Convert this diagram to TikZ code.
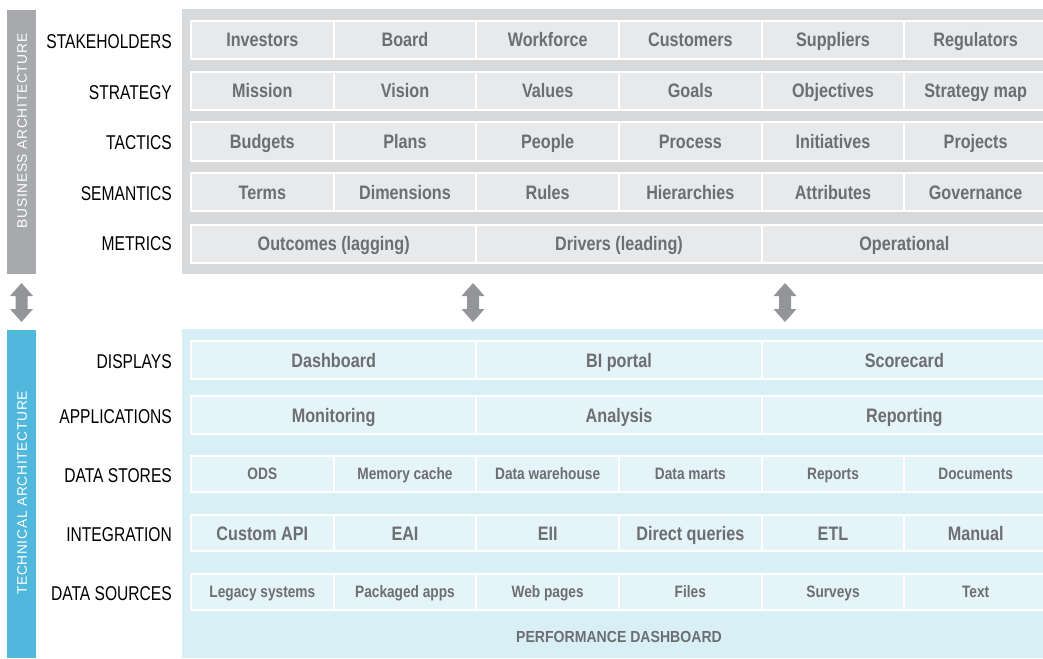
\documentclass[tikz,border=0pt]{standalone}
\usepackage{fontspec}
\setmainfont{Liberation Sans}
\newfontfamily\cellfont[FakeStretch=0.83]{Liberation Sans}
\newfontfamily\labelfont[FakeStretch=0.78]{Liberation Sans}
\newfontfamily\sidefont[LetterSpace=5]{Liberation Sans}
\newfontfamily\pdfont[FakeStretch=0.88]{Liberation Sans}
\definecolor{panelgray}{HTML}{D8D9DB}
\definecolor{cellgrayfill}{HTML}{E8E9EA}
\definecolor{bargray}{HTML}{A7A9AC}
\definecolor{arrowgray}{HTML}{939598}
\definecolor{txtgray}{HTML}{6D6E71}
\definecolor{panelblue}{HTML}{D9EFF6}
\definecolor{cellbluefill}{HTML}{E5F4F9}
\definecolor{barblue}{HTML}{4FB8DC}
\tikzset{
  cellbase/.style={draw=white, line width=2pt, inner sep=0pt, text=txtgray, text depth=0pt},
  bcell/.style={cellbase, fill=cellgrayfill, text height=14pt, font=\cellfont\bfseries\fontsize{19.5}{20}\selectfont},
  tcell/.style={cellbase, fill=cellbluefill, text height=14pt, font=\cellfont\bfseries\fontsize{19.5}{20}\selectfont},
  tcellsmall/.style={cellbase, fill=cellbluefill, text height=11.8pt, font=\cellfont\bfseries\fontsize{16.5}{17}\selectfont},
  lbl/.style={anchor=east, inner sep=0pt, text=black, text height=14.3pt, text depth=0pt, font=\labelfont\fontsize{20}{21}\selectfont},
  sidelbl/.style={rotate=90, inner sep=0pt, text=white, text height=9.9pt, text depth=0pt, font=\sidefont\fontsize{13.8}{14}\selectfont},
  arrowshape/.style={fill=arrowgray, draw=none},
}
\def\cw{142.667}
\def\cwt{285.333}
\begin{document}
\begin{tikzpicture}[x=1pt,y=-1pt]
\useasboundingbox (0,0) rectangle (1043,658);
% side bars
\fill[bargray] (7,10) rectangle (36,274);
\fill[barblue] (7,330) rectangle (36,658);
\node[sidelbl] (busarch) at (22,131) {BUSINESS ARCHITECTURE};
\node[sidelbl] (techarch) at (22,493) {TECHNICAL ARCHITECTURE};
% panels
\fill[panelgray] (182,9) rectangle (1043,274);
\fill[panelblue] (182,329) rectangle (1043,658);
% arrows
\foreach \c in {21.5,473,785}{
  \fill[arrowshape] (\c,283) -- (\c+11.5,296) -- (\c+6,296) -- (\c+6,309) -- (\c+11.5,309)
    -- (\c,322) -- (\c-11.5,309) -- (\c-6,309) -- (\c-6,296) -- (\c-11.5,296) -- cycle;
}
% labels
\node[lbl] (lstk) at (172,41) {STAKEHOLDERS};
\node[lbl] (lstr) at (172,92) {STRATEGY};
\node[lbl] (ltac) at (172,142) {TACTICS};
\node[lbl] (lsem) at (172,193) {SEMANTICS};
\node[lbl] (lmet) at (172,243) {METRICS};
\node[lbl] (ldis) at (172,361) {DISPLAYS};
\node[lbl] (lapp) at (172,416) {APPLICATIONS};
\node[lbl] (ldst) at (172,475) {DATA STORES};
\node[lbl] (lint) at (172,534) {INTEGRATION};
\node[lbl] (ldsr) at (172,593) {DATA SOURCES};
% business rows
\foreach \t [count=\i] in {Investors,Board,Workforce,Customers,Suppliers,Regulators}
  \node[bcell, minimum width=\cw, minimum height=38] (stk\i) at ({191+\cw*(\i-0.5)},40) {\t};
\foreach \t [count=\i] in {Mission,Vision,Values,Goals,Objectives,Strategy map}
  \node[bcell, minimum width=\cw, minimum height=38] (str\i) at ({191+\cw*(\i-0.5)},91) {\t};
\foreach \t [count=\i] in {Budgets,Plans,People,Process,Initiatives,Projects}
  \node[bcell, minimum width=\cw, minimum height=38] (tac\i) at ({191+\cw*(\i-0.5)},141.5) {\t};
\foreach \t [count=\i] in {Terms,Dimensions,Rules,Hierarchies,Attributes,Governance}
  \node[bcell, minimum width=\cw, minimum height=38] (sem\i) at ({191+\cw*(\i-0.5)},192) {\t};
\foreach \t [count=\i] in {Outcomes (lagging),Drivers (leading),Operational}
  \node[bcell, minimum width=\cwt, minimum height=38] (met\i) at ({191+\cwt*(\i-0.5)},243.5) {\t};
% technical rows
\foreach \t [count=\i] in {Dashboard,BI portal,Scorecard}
  \node[tcell, minimum width=\cwt, minimum height=38] (dis\i) at ({191+\cwt*(\i-0.5)},360) {\t};
\foreach \t [count=\i] in {Monitoring,Analysis,Reporting}
  \node[tcell, minimum width=\cwt, minimum height=38] (app\i) at ({191+\cwt*(\i-0.5)},415) {\t};
\foreach \t [count=\i] in {ODS,Memory cache,Data warehouse,Data marts,Reports,Documents}
  \node[tcellsmall, minimum width=\cw, minimum height=36] (dst\i) at ({191+\cw*(\i-0.5)},474) {\t};
\foreach \t [count=\i] in {Custom API,EAI,EII,Direct queries,ETL,Manual}
  \node[tcell, minimum width=\cw, minimum height=36] (int\i) at ({191+\cw*(\i-0.5)},533) {\t};
\foreach \t [count=\i] in {Legacy systems,Packaged apps,Web pages,Files,Surveys,Text}
  \node[tcellsmall, minimum width=\cw, minimum height=36] (dsr\i) at ({191+\cw*(\i-0.5)},592) {\t};
\node[inner sep=0pt, text=txtgray, text height=11.5pt, text depth=0pt, font=\pdfont\bfseries\fontsize{16}{17}\selectfont] (perfdash) at (619,637) {PERFORMANCE DASHBOARD};
\end{tikzpicture}
\end{document}
